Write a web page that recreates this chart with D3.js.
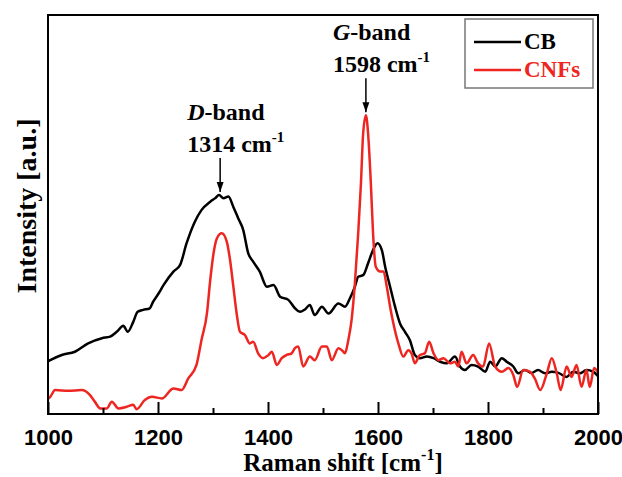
<!DOCTYPE html>
<html>
<head>
<meta charset="utf-8">
<script src="https://cdn.jsdelivr.net/npm/d3@7"></script>
<style>
html,body{margin:0;padding:0;background:#fff;}
svg{display:block;}
</style>
</head>
<body>
<svg id="chart" width="622" height="477"></svg>
<script>
// ---- data (Raman shift in cm-1, intensity in arbitrary units) ----
const seriesNames = ["CB", "CNFs"];
const seriesColors = ["#000000", "#ee2622"];
const xTicksMajor = [1000, 1200, 1400, 1600, 1800, 2000];
const xTicksMinor = [1100, 1300, 1500, 1700, 1900];

const cbShift = [1000,1004,1025,1049,1073,1098,1113,1125,1137,1145,1155,1163,1173,1185,1191,1201,1210,1228,1240,1252,1267,1279,1295,1304,1311,1319,1328,1337,1346,1355,1364,1373,1385,1398,1410,1422,1437,1449,1458,1467,1476,1485,1498,1510,1528,1540,1549,1558,1564,1573,1582,1591,1599,1607,1613,1622,1631,1640,1649,1658,1667,1676,1689,1701,1713,1725,1740,1749,1758,1770,1782,1795,1804,1813,1825,1834,1846,1855,1867,1879,1891,1904,1916,1928,1943,1955,1967,1979,1991,2000];
const cbIntensity = [13.2,13.5,14.8,15.6,17.7,19.0,19.4,20.6,22.1,20.6,23.1,25.6,26.1,26.5,28.1,30.2,32.3,35.7,37.3,42.8,48.2,51.1,53.2,54.1,54.9,54.1,54.5,51.9,49.0,46.1,40.3,38.2,35.7,31.9,32.3,29.4,28.6,26.5,25.6,26.2,27.3,24.8,26.9,25.2,27.7,26.9,29.0,31.9,34.4,34.8,37.8,41.1,42.8,41.1,36.9,31.9,26.9,22.7,20.6,18.5,14.8,14.0,14.4,14.0,13.1,12.7,14.4,11.9,11.0,12.3,11.9,10.6,13.1,11.9,14.0,13.1,11.9,10.2,11.0,10.3,11.0,10.2,10.6,10.3,9.3,10.6,10.2,11.0,10.6,9.5];

const cnfShift = [1000,1004,1013,1037,1061,1076,1085,1095,1107,1116,1128,1143,1155,1161,1176,1189,1207,1228,1243,1255,1270,1279,1289,1295,1301,1307,1316,1325,1331,1337,1343,1349,1358,1367,1373,1382,1391,1401,1407,1416,1425,1434,1443,1449,1455,1464,1476,1485,1498,1507,1516,1528,1537,1540,1546,1552,1558,1564,1569,1573,1578,1582,1587,1591,1596,1604,1610,1616,1622,1628,1637,1646,1655,1661,1667,1676,1685,1693,1701,1710,1719,1731,1740,1746,1752,1761,1773,1782,1791,1802,1813,1825,1837,1846,1853,1864,1876,1885,1895,1907,1916,1925,1932,1943,1952,1961,1970,1979,1985,1993,2000];
const cnfIntensity = [3.8,4.3,6.0,5.8,6.0,4.8,3.1,1.4,1.4,3.1,1.4,1.8,2.3,1.2,3.5,4.3,3.9,6.4,6.0,8.9,12.3,18.5,25.2,33.6,40.3,44.0,45.3,43.2,38.6,31.9,25.2,20.6,19.8,17.7,18.1,15.2,14.0,14.8,15.6,12.3,14.0,14.8,15.2,16.5,16.9,11.9,14.4,13.5,16.9,16.9,13.5,16.5,15.6,15.2,18.5,23.6,32.8,45.3,57.8,70.3,74.9,70.3,57.8,45.3,36.9,35.7,35.7,31.9,26.9,22.7,17.7,14.4,16.0,15.2,12.7,14.8,15.2,18.1,15.2,13.5,14.0,12.7,13.1,11.9,15.6,12.7,14.8,12.7,11.9,17.7,11.9,10.6,11.5,9.8,6.8,11.0,10.6,8.9,6.0,10.2,14.0,10.2,6.0,11.9,9.3,12.3,6.8,11.0,6.8,11.5,10.3];

// annotations
const annotLabels = ["D", "G"];
const annotValues = ["1314", "1598"];
const annotShift = [1313, 1578];
const annotPeak = [54.9, 74.9];

// ---- layout ----
const svg = d3.select("#chart");
const m = {left: 48, right: 598, top: 15, bottom: 414};
const x = d3.scaleLinear().domain([1000, 2000]).range([m.left, m.right]);
const y = d3.scaleLinear().domain([0, 100]).range([m.bottom, m.top]);

const serif = "'Liberation Serif','Times New Roman',serif";
const sans = "'Liberation Sans',Arial,sans-serif";

svg.append("defs").append("clipPath").attr("id", "clip")
  .append("rect").attr("x", m.left).attr("y", m.top)
  .attr("width", m.right - m.left).attr("height", m.bottom - m.top);

const series = [
  {name: seriesNames[0], color: seriesColors[0], pts: cbShift.map((s, i) => [s, cbIntensity[i]])},
  {name: seriesNames[1], color: seriesColors[1], pts: cnfShift.map((s, i) => [s, cnfIntensity[i]])}
];

const line = d3.line().x(d => x(d[0])).y(d => y(d[1])).curve(d3.curveMonotoneX);

svg.append("g").attr("clip-path", "url(#clip)")
  .selectAll("path").data(series).join("path")
  .attr("d", d => line(d.pts))
  .attr("fill", "none")
  .attr("stroke", d => d.color)
  .attr("stroke-width", 2.5)
  .attr("stroke-linejoin", "round");

// x axis with inward ticks
const axMajor = d3.axisBottom(x).tickValues(xTicksMajor).tickSizeInner(-12).tickSizeOuter(0).tickPadding(20).tickFormat(d3.format("d"));
const gx = svg.append("g").attr("transform", `translate(0,${m.bottom})`).call(axMajor);
gx.select(".domain").remove();
gx.selectAll(".tick line").attr("stroke", "#000").attr("stroke-width", 2);
gx.selectAll(".tick text").attr("font-family", sans).attr("font-weight", "bold")
  .attr("font-size", 22).attr("fill", "#000").attr("dy", "0.5em");
const axMinor = d3.axisBottom(x).tickValues(xTicksMinor).tickSizeInner(-6).tickSizeOuter(0).tickFormat("");
const gxm = svg.append("g").attr("transform", `translate(0,${m.bottom})`).call(axMinor);
gxm.select(".domain").remove();
gxm.selectAll(".tick line").attr("stroke", "#000").attr("stroke-width", 2);

// frame
svg.append("rect").attr("x", m.left).attr("y", m.top)
  .attr("width", m.right - m.left).attr("height", m.bottom - m.top)
  .attr("fill", "none").attr("stroke", "#000").attr("stroke-width", 2);

// axis titles
const xt = svg.append("text").attr("x", (m.left + m.right) / 2 + 20).attr("y", 471)
  .attr("text-anchor", "middle").attr("font-family", serif).attr("font-weight", "bold")
  .attr("font-size", 25).attr("fill", "#000");
xt.append("tspan").text("Raman shift [cm");
xt.append("tspan").attr("dy", -11).attr("font-size", 16).text("-1");
xt.append("tspan").attr("dy", 11).text("]");

svg.append("text").attr("transform", `translate(36,${206}) rotate(-90)`)
  .attr("text-anchor", "middle").attr("font-family", serif).attr("font-weight", "bold")
  .attr("font-size", 28).attr("fill", "#000").text("Intensity [a.u.]");

// legend
const lg = svg.append("g");
lg.append("rect").attr("x", 465).attr("y", 19).attr("width", 128).attr("height", 69)
  .attr("fill", "#fff").attr("stroke", "#777").attr("stroke-width", 1.5);
series.forEach((s, i) => {
  const ly = 42 + i * 28;
  lg.append("line").attr("x1", 474).attr("x2", 521).attr("y1", ly).attr("y2", ly)
    .attr("stroke", s.color).attr("stroke-width", 2.5);
  lg.append("text").attr("x", 524).attr("y", ly + 7).attr("font-family", serif)
    .attr("font-weight", "bold").attr("font-size", 23).attr("fill", s.color).text(s.name);
});

// annotations
const defs = svg.select("defs");
defs.append("marker").attr("id", "arrow").attr("viewBox", "0 0 10 10")
  .attr("refX", 10).attr("refY", 5).attr("markerWidth", 10).attr("markerHeight", 10)
  .attr("markerUnits", "userSpaceOnUse").attr("orient", "auto")
  .append("path").attr("d", "M0,1.5 L10,5 L0,8.5 Z").attr("fill", "#000");

annotLabels.forEach((lab, i) => {
  const px = x(annotShift[i]);
  const py = y(annotPeak[i]) - 3;
  svg.append("line").attr("x1", px).attr("x2", px).attr("y1", py - 34).attr("y2", py)
    .attr("stroke", "#000").attr("stroke-width", 1.5).attr("marker-end", "url(#arrow)");
  const tx = px - 33;
  const t1 = svg.append("text").attr("x", tx).attr("y", py - 72)
    .attr("font-family", serif).attr("font-weight", "bold").attr("font-size", 24).attr("fill", "#000");
  t1.append("tspan").attr("font-style", "italic").text(lab);
  t1.append("tspan").text("-band");
  const t2 = svg.append("text").attr("x", tx).attr("y", py - 40)
    .attr("font-family", serif).attr("font-weight", "bold").attr("font-size", 24).attr("fill", "#000");
  t2.append("tspan").text(annotValues[i] + " cm");
  t2.append("tspan").attr("dy", -10).attr("font-size", 15).text("-1");
});
</script>
</body>
</html>
